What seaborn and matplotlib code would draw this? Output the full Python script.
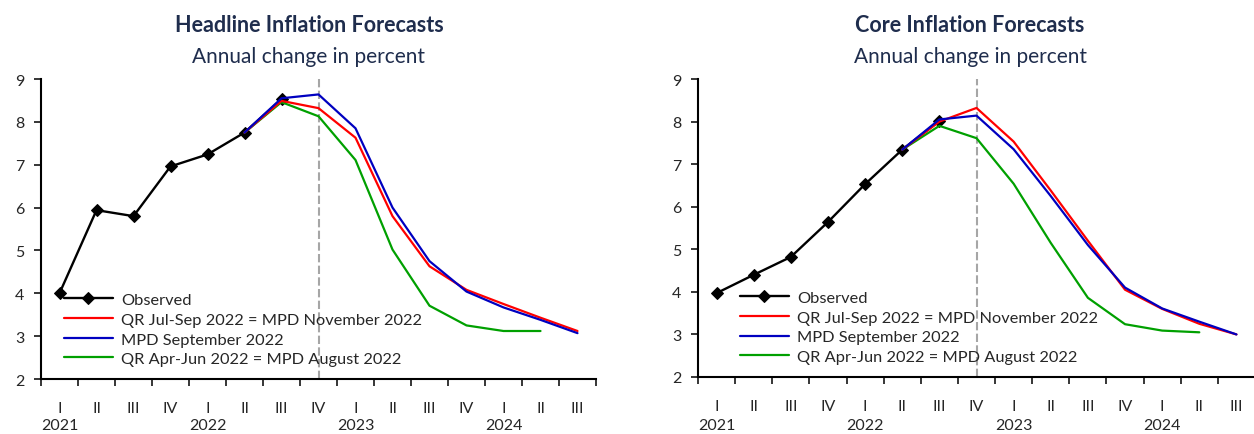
import numpy as np
import pandas as pd
import seaborn as sns
import matplotlib.pyplot as plt
from matplotlib.transforms import blended_transform_factory

# quarters 2021Q1 .. 2024Q3
QUARTERS = ["I", "II", "III", "IV", "I", "II", "III", "IV",
            "I", "II", "III", "IV", "I", "II", "III"]
YEARS = ["2021", "2022", "2023", "2024"]
YEAR_START = [0, 4, 8, 12]
CUTOFF = 7  # 2022 Q4

SERIES_NAMES = ["Observed",
                "QR Jul-Sep 2022 = MPD November 2022",
                "MPD September 2022",
                "QR Apr-Jun 2022 = MPD August 2022"]

# headline inflation
head_observed = [4.0, 5.94, 5.80, 6.96, 7.24, 7.75, 8.53]
head_qr_jul = [7.75, 8.49, 8.32, 7.63, 5.80, 4.63, 4.08, 3.75, 3.43, 3.12]
head_mpd_sep = [7.75, 8.55, 8.64, 7.85, 6.00, 4.75, 4.04, 3.67, 3.38, 3.07]
head_qr_apr = [7.75, 8.46, 8.13, 7.11, 5.02, 3.71, 3.25, 3.12, 3.12]

# core inflation
core_observed = [3.97, 4.40, 4.82, 5.64, 6.53, 7.34, 8.02]
core_qr_jul = [7.34, 8.00, 8.32, 7.53, 6.38, 5.20, 4.05, 3.60, 3.25, 3.00]
core_mpd_sep = [7.34, 8.05, 8.14, 7.35, 6.25, 5.10, 4.10, 3.61, 3.30, 3.00]
core_qr_apr = [7.34, 7.90, 7.61, 6.54, 5.15, 3.86, 3.24, 3.09, 3.05]

FORECAST_START = 5  # 2022 Q2

COLORS = ["black", "#FF0000", "#0000C0", "#00A000"]
TITLE_COLOR = "#1F2D4D"
FONT = ["Lato", "DejaVu Sans"]

sns.set_style("ticks")
plt.rcParams["font.family"] = FONT
plt.rcParams["font.size"] = 11.5


def make_frame(observed, qr_jul, mpd_sep, qr_apr):
    rows = []
    for name, vals, start in [(SERIES_NAMES[0], observed, 0),
                              (SERIES_NAMES[1], qr_jul, FORECAST_START),
                              (SERIES_NAMES[2], mpd_sep, FORECAST_START),
                              (SERIES_NAMES[3], qr_apr, FORECAST_START)]:
        for i, v in enumerate(vals):
            rows.append({"series": name, "q": start + i, "value": v})
    return pd.DataFrame(rows)


def draw_panel(ax, df, legend_anchor, year_y):
    ax.axvline(CUTOFF, color="#A6A6A6", lw=1.5, dashes=(4, 1.6), zorder=1)
    obs = df[df.series == SERIES_NAMES[0]]
    sns.lineplot(data=obs, x="q", y="value", ax=ax, color=COLORS[0], lw=1.7,
                 marker="D", markersize=6, markeredgecolor="black",
                 label=SERIES_NAMES[0], zorder=3)
    for name, col in [(SERIES_NAMES[3], COLORS[3]),
                      (SERIES_NAMES[1], COLORS[1]),
                      (SERIES_NAMES[2], COLORS[2])]:
        part = df[df.series == name]
        sns.lineplot(data=part, x="q", y="value", ax=ax, color=col, lw=1.6,
                     label=name, zorder=4)

    handles, labels = ax.get_legend_handles_labels()
    order = [labels.index(n) for n in SERIES_NAMES]
    ax.legend([handles[i] for i in order], [labels[i] for i in order],
              loc="upper left", bbox_to_anchor=legend_anchor, frameon=False,
              handlelength=3.0, handletextpad=0.5, labelspacing=0.32,
              borderpad=0, borderaxespad=0, fontsize=11.8)

    n = len(QUARTERS)
    ax.set_xlim(-0.5, n - 0.5)
    ax.set_ylim(2, 9)
    ax.set_yticks(range(2, 10))
    ax.set_xticks(np.arange(-0.5, n, 1.0))
    ax.set_xticklabels([])
    ax.set_xticks(range(n), minor=True)
    ax.set_xticklabels(QUARTERS, minor=True)
    ax.tick_params(axis="x", which="major", length=5, width=1.3, direction="out")
    ax.tick_params(axis="x", which="minor", length=0, pad=16, labelsize=11.5)
    ax.tick_params(axis="y", length=5, width=1.3, direction="out", pad=7,
                   labelsize=11.5)
    ax.set_xlabel("")
    ax.set_ylabel("")
    for side in ["top", "right"]:
        ax.spines[side].set_visible(False)
    for side in ["left", "bottom"]:
        ax.spines[side].set_linewidth(1.5)
        ax.spines[side].set_color("black")

    trans = blended_transform_factory(ax.transData, ax.transAxes)
    for yr, pos in zip(YEARS, YEAR_START):
        ax.text(pos, year_y, yr, transform=trans, ha="center", va="center",
                fontsize=11.5)


fig = plt.figure(figsize=(12.54, 4.35), dpi=100)
ax1 = fig.add_axes([41 / 1254, 1 - 380 / 435, 555 / 1254, 300 / 435])
ax2 = fig.add_axes([698 / 1254, 1 - 378 / 435, 557 / 1254, 298 / 435])

draw_panel(ax1, make_frame(head_observed, head_qr_jul, head_mpd_sep, head_qr_apr),
           (0.041, 0.288), -0.152)
draw_panel(ax2, make_frame(core_observed, core_qr_jul, core_mpd_sep, core_qr_apr),
           (0.075, 0.29), -0.16)

for cx, title in [(309 / 1254, "Headline Inflation Forecasts"),
                  (970 / 1254, "Core Inflation Forecasts")]:
    fig.text(cx, 1 - 32 / 435, title, ha="center", va="baseline",
             fontsize=15.5, fontweight="bold", color=TITLE_COLOR)
    fig.text(cx, 1 - 63 / 435, "Annual change in percent", ha="center",
             va="baseline", fontsize=15, color=TITLE_COLOR)

fig.savefig("out.png", dpi=100)
